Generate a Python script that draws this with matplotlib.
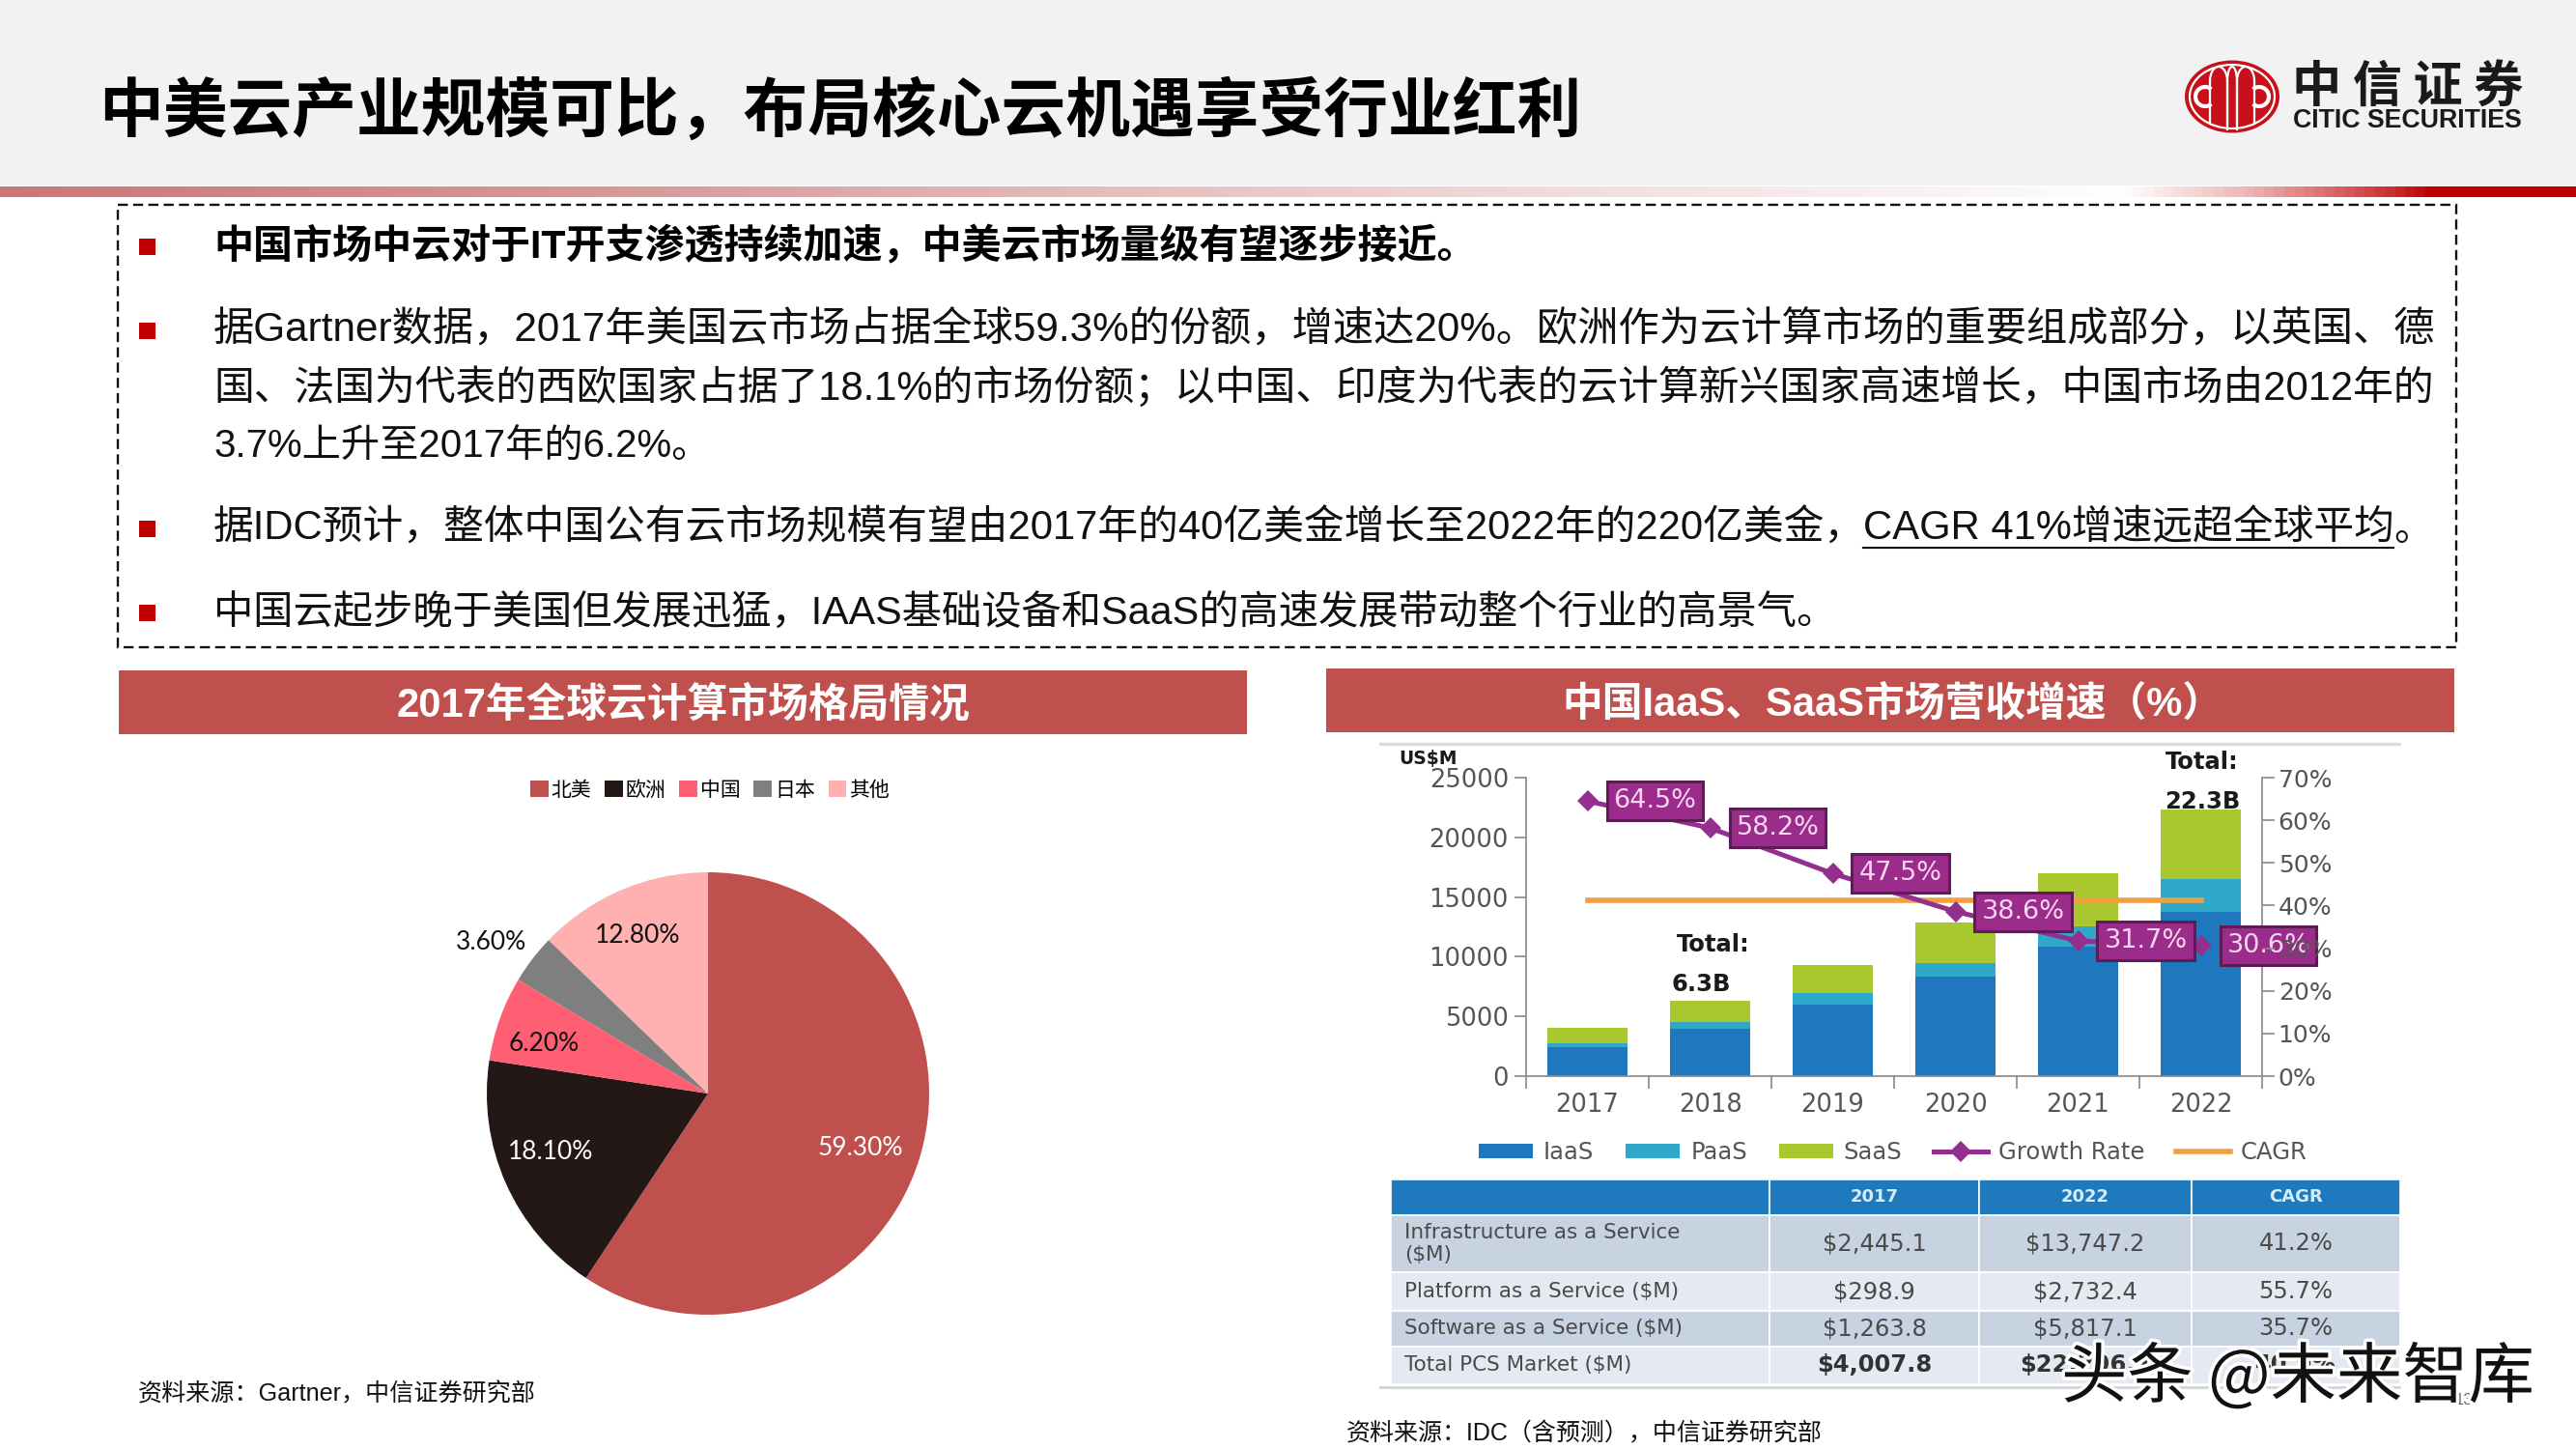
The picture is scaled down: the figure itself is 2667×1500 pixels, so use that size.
import numpy as np
import matplotlib
matplotlib.use("Agg")
import matplotlib.pyplot as plt
from matplotlib.patches import Rectangle, Ellipse, Arc
from matplotlib.colors import LinearSegmentedColormap
import matplotlib.patheffects as pe

CJK = "Noto Sans CJK SC"
MIX = ["Liberation Sans", CJK]
CHART = "DejaVu Sans"
plt.rcParams["font.family"] = MIX

# ---------- data ----------
title = "中美云产业规模可比，布局核心云机遇享受行业红利"
line1 = "中国市场中云对于IT开支渗透持续加速，中美云市场量级有望逐步接近。"
line2 = "据Gartner数据，2017年美国云市场占据全球59.3%的份额，增速达20%。欧洲作为云计算市场的重要组成部分，以英国、德"
line3 = "国、法国为代表的西欧国家占据了18.1%的市场份额；以中国、印度为代表的云计算新兴国家高速增长，中国市场由2012年的"
line4 = "3.7%上升至2017年的6.2%。"
line5a = "据IDC预计，整体中国公有云市场规模有望由2017年的40亿美金增长至2022年的220亿美金，"
line5b = "CAGR 41%增速远超全球平均"
line5c = "。"
line6 = "中国云起步晚于美国但发展迅猛，IAAS基础设备和SaaS的高速发展带动整个行业的高景气。"
head_left = "2017年全球云计算市场格局情况"
head_right = "中国IaaS、SaaS市场营收增速（%）"
src_left = "资料来源：Gartner，中信证券研究部"
src_right = "资料来源：IDC（含预测），中信证券研究部"

pie_labels = ["北美", "欧洲", "中国", "日本", "其他"]
pie_values = [59.3, 18.1, 6.2, 3.6, 12.8]
pie_colors = ["#c0504d", "#231815", "#ff5f73", "#7f7f7f", "#ffb0b0"]

years = ["2017", "2018", "2019", "2020", "2021", "2022"]
iaas = [2445, 3964, 5987, 8333, 10841, 13747]
paas = [299, 540, 944, 1160, 1672, 2732]
saas = [1264, 1834, 2346, 3371, 4477, 5817]
growth = [64.5, 58.2, 47.5, 38.6, 31.7, 30.6]
cagr = [41.2] * 6

table_cols = ["", "2017", "2022", "CAGR"]
table_rows = [
    ["Infrastructure as a Service\n($M)", "$2,445.1", "$13,747.2", "41.2%"],
    ["Platform as a Service ($M)", "$298.9", "$2,732.4", "55.7%"],
    ["Software as a Service ($M)", "$1,263.8", "$5,817.1", "35.7%"],
    ["Total PCS Market ($M)", "$4,007.8", "$22,296.7", "40.9%"],
]

W, H = 2667, 1500
fig = plt.figure(figsize=(W / 100, H / 100), dpi=100, facecolor="white")
def frame(x0, y0, x1, y1, **kw):
    return fig.add_axes([x0 / W, 1 - y1 / H, (x1 - x0) / W, (y1 - y0) / H], **kw)

# ---------- page layer in pixel coordinates ----------
pg = frame(0, 0, W, H)
pg.set_xlim(0, W); pg.set_ylim(H, 0); pg.axis("off"); pg.set_zorder(0)
pg.add_patch(Rectangle((0, 0), W, 192, fc="#f2f2f2", ec="none"))
cm = LinearSegmentedColormap.from_list("band", [(0, "#cd7677"), (0.25, "#d99a9a"), (0.45, "#e8c0c0"),
                                                (0.62, "#f3dede"), (0.8, "#fdfafa"), (0.825, "#ffffff"),
                                                (0.875, "#eeb4b4"), (0.93, "#cc3030"), (0.945, "#c00000"), (1, "#c00000")])
pg.imshow(np.linspace(0, 1, 1024)[None, :], extent=[0, W, 204, 193], cmap=cm, aspect="auto", zorder=1)
pg.set_xlim(0, W); pg.set_ylim(H, 0)

rend = fig.canvas.get_renderer()
def fit(x0, x1, y, s, size, axes=None, **kw):
    t = (axes or pg).text(x0, y + 3.5, s, fontsize=size, va="center", ha="left", **kw)
    w = t.get_window_extent(rend).width
    t.set_fontsize(size * (x1 - x0) / w)
    return t

fit(102, 1636, 113, title, 48, fontweight="bold", color="#000000", family=[CJK])

pg.add_patch(Rectangle((122, 212), 2421, 458, fc="none", ec="#111111", lw=1.7, ls=(0, (4.4, 2.3))))
for y in (255, 342, 547, 634):
    pg.add_patch(Rectangle((144, y - 8.5), 17, 17, fc="#c00000", ec="none"))
fit(221, 1531, 250, line1, 29.5, fontweight="bold", color="#000000")
fit(221, 2522, 338, line2, 29, color="#111111")
fit(221, 2522, 398, line3, 29, color="#111111")
fit(221, 735, 459, line4, 29, color="#111111")
fit(221, 1929, 544, line5a, 29, color="#111111")
fit(1929, 2478, 544, line5b, 29, color="#111111")
fit(2478, 2518, 544, line5c, 29, color="#111111")
pg.plot([1929, 2478], [567, 567], color="#111111", lw=1.5)
fit(221, 1900, 631, line6, 29, color="#111111")

for x0, x1, y0, y1 in ((123, 1291, 694, 760), (1373, 2541, 692, 758)):
    pg.add_patch(Rectangle((x0, y0), x1 - x0, y1 - y0, fc="#c0504d", ec="none"))
fit(410, 1003, 727, head_left, 27, fontweight="bold", color="white")
fit(1617, 2302, 726, head_right, 27, fontweight="bold", color="white")
fit(143, 554, 1440, src_left, 17, color="#111111")
fit(1394, 1888, 1481, src_right, 17, color="#111111")

# logo
red = "#c8101a"
pg.add_patch(Ellipse((2311, 100), 98, 75, fc=red, ec="none"))
pg.add_patch(Ellipse((2311, 100), 88, 66, fc="none", ec="white", lw=1.6))
for cx, w in ((2297, 18), (2311, 10), (2325, 18)):
    pg.add_patch(Arc((cx, 84), w, 30, theta1=180, theta2=360, ec="white", lw=1.6))
    pg.plot([cx - w / 2, cx - w / 2], [84, 134 - abs(cx - 2311) * 0.4], color="white", lw=1.6)
    pg.plot([cx + w / 2, cx + w / 2], [84, 134 - abs(cx - 2311) * 0.4], color="white", lw=1.6)
pg.add_patch(Arc((2283, 100), 20, 20, theta1=50, theta2=310, ec="white", lw=3))
pg.add_patch(Arc((2339, 100), 20, 20, theta1=-130, theta2=130, ec="white", lw=3))
fit(2373, 2612, 87, "中 信 证 券", 31, fontweight="bold", color="#1a1a1a", family=[CJK])
fit(2374, 2612, 122, "CITIC SECURITIES", 15, fontweight="bold", color="#1a1a1a")

# picture frame rules
pg.plot([1429, 2484], [770, 770], color="#dcdcdc", lw=2.4)
pg.plot([1429, 2484], [1436, 1436], color="#d4d4d4", lw=2.0)

# ---------- pie ----------
pa = frame(733 - 229, 1132 - 229, 733 + 229, 1132 + 229)
wedges, _, autos = pa.pie(pie_values, colors=pie_colors, startangle=90, counterclock=False, radius=1,
                          autopct="%.2f%%", wedgeprops=dict(lw=0))
pa.set_xlim(-1, 1); pa.set_ylim(-1, 1)
spots = [(0.69, -0.245), (-0.71, -0.265), (-0.74, 0.225), (-0.98, 0.685), (-0.32, 0.715)]
tcol = ["white", "white", "#111111", "#111111", "#111111"]
for a, p, c in zip(autos, spots, tcol):
    a.set_position(p); a.set_color(c); a.set_fontsize(19); a.set_family("Lato")
    a.set_ha("center"); a.set_va("center")
leg = pa.legend(wedges, pie_labels, ncol=5, loc="center", frameon=False,
                prop=dict(family=CJK, size=15), handlelength=0.9, handleheight=0.9,
                handletextpad=0.15, columnspacing=0.65, borderpad=0)
leg.set_bbox_to_anchor((735 / W, 1 - 818 / H), transform=fig.transFigure)

# ---------- stacked bars with rate lines ----------
ax = frame(1580, 805, 2342, 1114)
ax.set_facecolor("none")
pos = np.arange(len(years), dtype=float)
c_i, c_p, c_s = "#1f78bd", "#2fa9c9", "#a9c82f"
b1 = ax.bar(pos, iaas, 0.66, color=c_i, label="IaaS")
b2 = ax.bar(pos, paas, 0.66, bottom=iaas, color=c_p, label="PaaS")
b3 = ax.bar(pos, saas, 0.66, bottom=np.add(iaas, paas), color=c_s, label="SaaS")
ax.set_xlim(-0.5, 5.5); ax.set_ylim(0, 25000)
ax.set_yticks(range(0, 25001, 5000))
ax.set_xticks(np.arange(-0.5, 5.6, 1)); ax.set_xticklabels([])
ax.set_xticks(pos, minor=True); ax.set_xticklabels(years, minor=True)
tc = "#555555"
ax.tick_params(axis="x", which="major", length=9, width=1.2, color="#888888", direction="out")
ax.tick_params(axis="x", which="minor", length=0, pad=12, labelsize=18.5, labelcolor=tc)
ax.tick_params(axis="y", length=9, width=1.2, color="#888888", labelsize=18.5, labelcolor=tc, pad=4)
for s in ("top", "right"):
    ax.spines[s].set_visible(False)
for s in ("left", "bottom"):
    ax.spines[s].set_color("#888888"); ax.spines[s].set_linewidth(1.2)
for l in ax.get_xticklabels(minor=True) + ax.get_yticklabels():
    l.set_family(CHART)

ar = ax.twinx()
ar.set_ylim(0, 70); ar.set_yticks(range(0, 71, 10))
ar.set_yticklabels([f"{v}%" for v in range(0, 71, 10)])
ar.tick_params(axis="y", length=9, width=1.2, color="#888888", labelsize=18, labelcolor=tc, pad=3)
for s in ("top", "left", "bottom"):
    ar.spines[s].set_visible(False)
ar.spines["right"].set_color("#888888"); ar.spines["right"].set_linewidth(1.2)
for l in ar.get_yticklabels():
    l.set_family(CHART)
ar.yaxis.set_zorder(10)
l1, = ar.plot(pos, growth, color="#93308f", lw=3.6, marker="D", ms=11, mew=0, zorder=4, label="Growth Rate")
l2, = ar.plot(pos, cagr, color="#f0a040", lw=4, zorder=3.5, label="CAGR")
for x, v in zip(pos, growth):
    ar.annotate(f"{v:.1f}%", (x, v), xytext=(50.4, 0), textcoords="offset points", ha="center", va="center",
                fontsize=19.5, color="#f6d6f0", family=CHART, zorder=5,
                bbox=dict(boxstyle="square,pad=0.26", fc="#9b2c8c", ec="#5e1c56", lw=2.2))

leg2 = ax.legend([b1, b2, b3, l1, l2], ["IaaS", "PaaS", "SaaS", "Growth Rate", "CAGR"], ncol=5, frameon=False,
                 loc="center", prop=dict(family=CHART, size=17.5), labelcolor=tc,
                 handlelength=2.3, handleheight=0.55, handletextpad=0.45, columnspacing=1.35, borderpad=0)
leg2.set_bbox_to_anchor((1960 / W, 1 - 1193 / H), transform=fig.transFigure)
leg2.set_zorder(20)

pg2 = frame(0, 0, W, H)
pg2.set_xlim(0, W); pg2.set_ylim(H, 0); pg2.axis("off"); pg2.set_zorder(5); pg2.patch.set_alpha(0)
for x, y, s in ((1479, 786, "US$M"), (1774, 978, "Total:"), (1761, 1019, "6.3B"), (2280, 789, "Total:"), (2280, 830, "22.3B")):
    pg2.text(x, y, s, ha="center", va="center", fontsize=13.5 if s == "US$M" else 17.5, fontweight="bold",
             color="#1a1a1a", family=CHART)

# ---------- table ----------
tb = frame(1440, 1221, 2485, 1433)
tb.axis("off")
tab = tb.table(cellText=[table_cols] + table_rows, loc="center", bbox=[0, 0, 1, 1], cellLoc="center",
               colWidths=[392 / 1045, 217 / 1045, 220 / 1045, 216 / 1045])
tab.auto_set_font_size(False)
heights = [37, 59, 40, 37, 39]
fills = ["#1f79bd", "#c8d3e2", "#e5e9f2", "#c8d3e2", "#e5e9f2"]
for (r, c), cell in tab.get_celld().items():
    cell.set_height(heights[r] / 212)
    cell.set_facecolor(fills[r]); cell.set_edgecolor("white"); cell.set_linewidth(1.2)
    txt = cell.get_text()
    txt.set_family(CHART)
    txt.set_fontsize(15.5 if c == 0 else 17.5)
    txt.set_color("#4a4a4a")
    if r == 0:
        txt.set_color("#d8ecf8"); txt.set_fontweight("bold"); txt.set_fontsize(13)
    if r == 4 and c > 0:
        txt.set_fontweight("bold"); txt.set_color("#333333")
    if c == 0:
        txt.set_ha("left"); cell.PAD = 0.035

# ---------- watermark and page number ----------
pg2.text(2551, 1449, "13", ha="center", va="center", fontsize=12, color="#666666")
t = fit(2134, 2624, 1424, "头条 @未来智库", 44, axes=pg2, color="#111111", family=[CJK])
t.set_path_effects([pe.withStroke(linewidth=5, foreground="white")])
t.set_zorder(30)

fig.savefig("out.png", dpi=100)
